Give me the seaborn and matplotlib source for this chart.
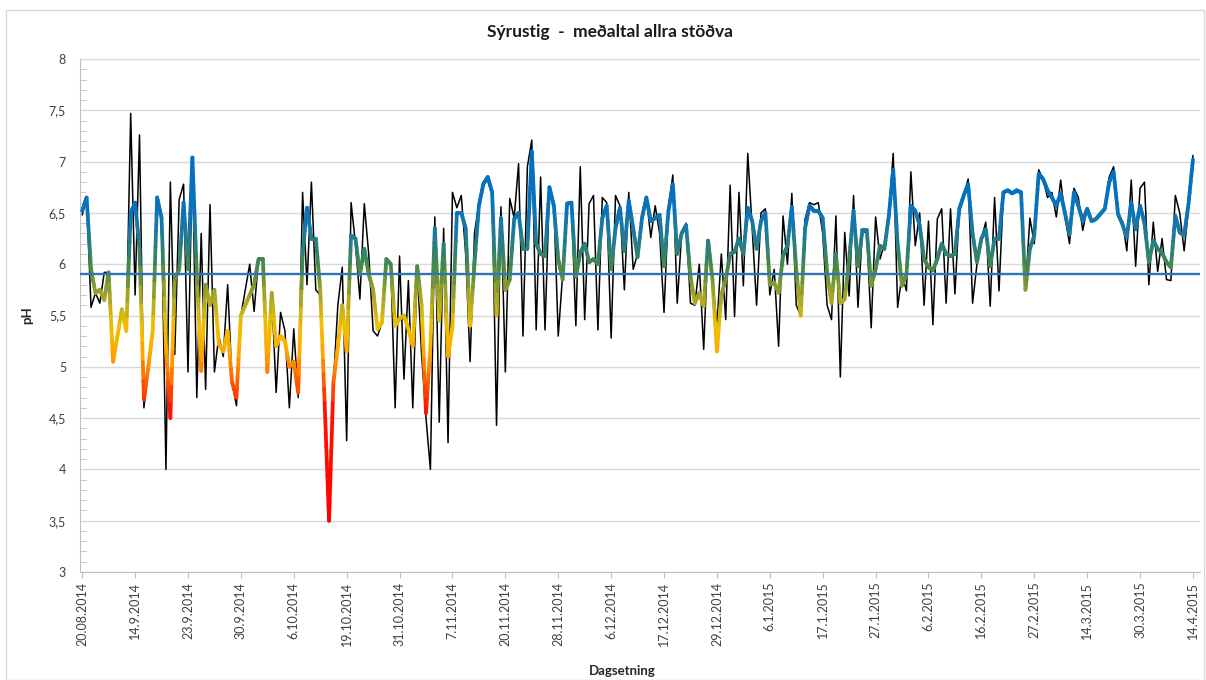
import numpy as np
import pandas as pd
import matplotlib
matplotlib.use("Agg")
import matplotlib.pyplot as plt
import seaborn as sns
from matplotlib.collections import LineCollection
from matplotlib.colors import LinearSegmentedColormap, Normalize
from matplotlib.ticker import MultipleLocator, FuncFormatter
from matplotlib.patches import Rectangle

# pH, average of all stations (black) and the smoothed curve (coloured by value)
ph_daily = [
    6.48, 6.65, 5.58, 5.72, 5.62, 5.92, 5.92, 5.05, 5.3, 5.56, 5.35, 7.47,
    5.7, 7.26, 4.6, 5.0, 5.3, 6.65, 6.45, 4.0, 6.8, 5.12, 6.63, 6.78,
    4.95, 7.04, 4.7, 6.3, 4.78, 6.58, 4.95, 5.3, 5.1, 5.8, 4.85, 4.62,
    5.5, 5.75, 6.0, 5.54, 6.05, 6.05, 4.95, 5.72, 4.75, 5.53, 5.35, 4.6,
    5.37, 4.7, 6.7, 5.8, 6.8, 5.75, 5.7, 4.65, 3.5, 4.85, 5.6, 5.97,
    4.28, 6.6, 6.2, 5.66, 6.59, 6.1, 5.35, 5.3, 5.43, 6.05, 6.0, 4.6,
    6.08, 4.88, 5.84, 4.6, 5.97, 5.12, 4.5, 4.0, 6.46, 4.46, 6.35, 4.26,
    6.7, 6.55, 6.67, 6.1, 5.05, 6.3, 6.6, 6.8, 6.85, 6.7, 4.43, 6.56,
    4.95, 6.64, 6.45, 6.98, 5.3, 6.95, 7.21, 5.36, 6.85, 5.36, 6.75, 6.6,
    5.3, 5.9, 6.6, 6.6, 5.4, 6.95, 5.46, 6.59, 6.67, 5.36, 6.65, 6.6,
    5.28, 6.67, 6.57, 5.75, 6.7, 5.95, 6.1, 6.45, 6.65, 6.26, 6.57, 6.3,
    5.53, 6.55, 6.87, 5.62, 6.3, 6.4, 5.62, 5.6, 6.0, 5.17, 6.23, 5.85,
    5.4, 6.1, 5.46, 6.77, 5.49, 6.7, 5.79, 7.08, 6.35, 5.6, 6.5, 6.54,
    5.7, 5.95, 5.2, 6.47, 6.0, 6.69, 5.6, 5.5, 6.44, 6.6, 6.58, 6.6,
    6.3, 5.6, 5.46, 6.47, 4.9, 6.31, 5.69, 6.67, 5.58, 6.33, 6.3, 5.38,
    6.46, 6.05, 6.2, 6.5, 7.08, 5.58, 5.9, 5.74, 6.9, 6.18, 6.5, 5.6,
    6.42, 5.41, 6.44, 6.54, 5.62, 6.54, 5.71, 6.54, 6.67, 6.83, 5.62, 6.0,
    6.25, 6.41, 5.59, 6.65, 5.74, 6.7, 6.72, 6.69, 6.7, 6.7, 5.75, 6.45,
    6.2, 6.92, 6.83, 6.65, 6.7, 6.46, 6.82, 6.45, 6.2, 6.74, 6.65, 6.33,
    6.55, 6.42, 6.44, 6.49, 6.54, 6.85, 6.95, 6.46, 6.42, 6.13, 6.82, 5.98,
    6.74, 6.8, 5.8, 6.41, 5.93, 6.25, 5.85, 5.84, 6.67, 6.5, 6.13, 6.55, 7.06,
]
ph_smooth = [
    6.52, 6.65, 5.95, 5.72, 5.75, 5.65, 5.92, 5.05, 5.3, 5.56, 5.35, 6.5,
    6.6, 6.15, 4.68, 5.0, 5.35, 6.65, 6.45, 5.2, 4.5, 5.85, 5.95, 6.6,
    5.95, 7.04, 5.9, 4.96, 5.8, 5.6, 5.75, 5.22, 5.15, 5.35, 4.85, 4.7,
    5.5, 5.6, 5.7, 5.8, 6.05, 6.05, 4.95, 5.72, 5.2, 5.3, 5.25, 5.0,
    5.05, 4.75, 6.1, 6.55, 6.25, 6.25, 5.75, 4.65, 3.5, 4.85, 5.2, 5.6,
    5.15, 6.28, 6.25, 5.9, 6.15, 5.9, 5.75, 5.37, 5.43, 6.05, 6.0, 5.4,
    5.47, 5.5, 5.37, 5.2, 5.98, 5.6, 4.55, 5.2, 6.35, 5.45, 6.2, 5.1,
    5.4, 6.5, 6.5, 6.35, 5.4, 6.0, 6.57, 6.78, 6.85, 6.7, 5.5, 6.45,
    5.75, 5.85, 6.44, 6.5, 6.15, 6.15, 7.1, 6.2, 6.1, 6.08, 6.75, 6.57,
    6.05, 5.85, 6.59, 6.6, 5.88, 6.11, 6.2, 6.02, 6.05, 6.0, 6.45, 6.57,
    5.95, 6.35, 6.55, 6.13, 6.62, 6.35, 6.07, 6.45, 6.65, 6.42, 6.45, 6.48,
    5.98, 6.52, 6.78, 6.1, 6.3, 6.38, 5.88, 5.62, 5.72, 5.59, 6.23, 5.85,
    5.15, 5.7, 5.85, 6.1, 6.12, 6.25, 6.1, 6.55, 6.42, 6.15, 6.42, 6.5,
    5.8, 5.82, 5.72, 6.08, 6.18, 6.56, 5.95, 5.5, 6.35, 6.57, 6.52, 6.52,
    6.45, 5.92, 5.62, 6.1, 5.62, 5.66, 6.05, 6.52, 5.98, 6.33, 6.33, 5.79,
    5.95, 6.18, 6.15, 6.47, 6.92, 6.2, 5.79, 5.9, 6.57, 6.52, 6.38, 6.05,
    5.97, 5.94, 6.05, 6.2, 6.1, 6.08, 6.1, 6.54, 6.67, 6.78, 6.3, 6.02,
    6.25, 6.34, 5.98, 6.25, 6.25, 6.7, 6.72, 6.69, 6.72, 6.7, 5.75, 6.15,
    6.28, 6.88, 6.83, 6.72, 6.65, 6.57, 6.69, 6.49, 6.29, 6.7, 6.57, 6.42,
    6.54, 6.42, 6.44, 6.49, 6.54, 6.8, 6.9, 6.49, 6.39, 6.26, 6.6, 6.34,
    6.57, 6.4, 6.02, 6.23, 6.15, 6.11, 6.02, 5.97, 6.47, 6.31, 6.28, 6.59, 7.02,
]
mean_ph = 5.9

date_labels = [
    "20.08.2014", "14.9.2014", "23.9.2014", "30.9.2014", "6.10.2014",
    "19.10.2014", "31.10.2014", "7.11.2014", "20.11.2014", "28.11.2014",
    "6.12.2014", "17.12.2014", "29.12.2014", "6.1.2015", "17.1.2015",
    "27.1.2015", "6.2.2015", "16.2.2015", "27.2.2015", "14.3.2015",
    "30.3.2015", "14.4.2015",
]
label_step = 12

assert len(ph_daily) == len(ph_smooth)

df = pd.DataFrame({
    "idx": np.arange(len(ph_daily)),
    "ph": ph_daily,
    "smooth": ph_smooth,
})

sns.set_style("white")
plt.rcParams["font.family"] = ["Lato", "DejaVu Sans"]

W, H = 1206, 680
fig = plt.figure(figsize=(W / 100, H / 100), dpi=100)
fig.patches.append(Rectangle((6 / W, 0), 1198 / W, 1 - 10 / H, transform=fig.transFigure,
                             fill=False, edgecolor="#D9D9D9", lw=1))
ax = fig.add_axes([80 / W, 1 - 572 / H, 1120 / W, 513 / H])

# black line
sns.lineplot(data=df, x="idx", y="ph", color="black", lw=1.1, ax=ax, zorder=2)

# coloured line, colour follows the height (vertical gradient like the original)
lo, hi = 3.5, 7.0
cmap = LinearSegmentedColormap.from_list("ph", [
    (0.0, "#FF0000"),
    ((4.6 - lo) / (hi - lo), "#FF1400"),
    ((4.9 - lo) / (hi - lo), "#FF6A00"),
    ((5.15 - lo) / (hi - lo), "#FFA800"),
    ((5.4 - lo) / (hi - lo), "#F0C000"),
    ((5.7 - lo) / (hi - lo), "#A4A528"),
    ((5.95 - lo) / (hi - lo), "#4E8A40"),
    ((6.12 - lo) / (hi - lo), "#2F8270"),
    ((6.32 - lo) / (hi - lo), "#1C799F"),
    ((6.55 - lo) / (hi - lo), "#0A72BC"),
    (1.0, "#0070C0"),
])
x = df["idx"].to_numpy(dtype=float)
y = df["smooth"].to_numpy()
# split each drawn segment in short pieces so the colour can change along it
sub = 8
t = np.linspace(0, 1, sub + 1)
xs = np.concatenate([x[i] + (x[i + 1] - x[i]) * t[:-1] for i in range(len(x) - 1)] + [x[-1:]])
ys = np.concatenate([y[i] + (y[i + 1] - y[i]) * t[:-1] for i in range(len(y) - 1)] + [y[-1:]])
pts = np.column_stack([xs, ys])
segs = np.stack([pts[:-1], pts[1:]], axis=1)
lc = LineCollection(segs, cmap=cmap, norm=Normalize(lo, hi), linewidths=2.7,
                    capstyle="round", joinstyle="round", zorder=3)
lc.set_array((ys[:-1] + ys[1:]) / 2)
ax.add_collection(lc)

ax.axhline(mean_ph, color="#2E75B6", lw=1.7, zorder=4)

# axes
ax.set_xlim(-0.5, 253.6)
ax.set_ylim(3, 8)
ax.yaxis.set_major_locator(MultipleLocator(0.5))
ax.yaxis.set_minor_locator(MultipleLocator(0.1))
ax.yaxis.set_major_formatter(FuncFormatter(lambda v, _: f"{v:g}".replace(".", ",")))
ax.set_xticks(np.arange(0, len(ph_daily), label_step))
ax.set_xticklabels(date_labels, rotation=90, fontsize=9, color="#404040")
ax.tick_params(axis="y", which="major", labelsize=9, labelcolor="#404040", length=0, pad=10)
ax.tick_params(axis="y", which="minor", direction="in", length=4, color="#BFBFBF", left=True)
ax.tick_params(axis="x", direction="out", length=4, color="#BFBFBF", bottom=True, pad=3)
ax.grid(axis="y", which="major", color="#D9D9D9", lw=1)
ax.set_axisbelow(True)
for s in ["top", "right"]:
    ax.spines[s].set_visible(False)
for s in ["left", "bottom"]:
    ax.spines[s].set_color("#BFBFBF")

ax.set_ylabel("pH", fontsize=9.5, fontweight="bold", color="#262626")
ax.yaxis.set_label_coords(-(80 - 33) / 1120, 0.5)
ax.set_xlabel("Dagsetning", fontsize=9.5, fontweight="bold", color="#262626")
ax.xaxis.set_label_coords((622 - 80) / 1120, -(665 - 572) / 513)

fig.text(610 / W, 1 - 32 / H, "Sýrustig  -  meðaltal allra stöðva",
         ha="center", va="center", fontsize=12.5, fontweight="bold", color="#1A1A1A")

fig.savefig("out.png", dpi=100)
